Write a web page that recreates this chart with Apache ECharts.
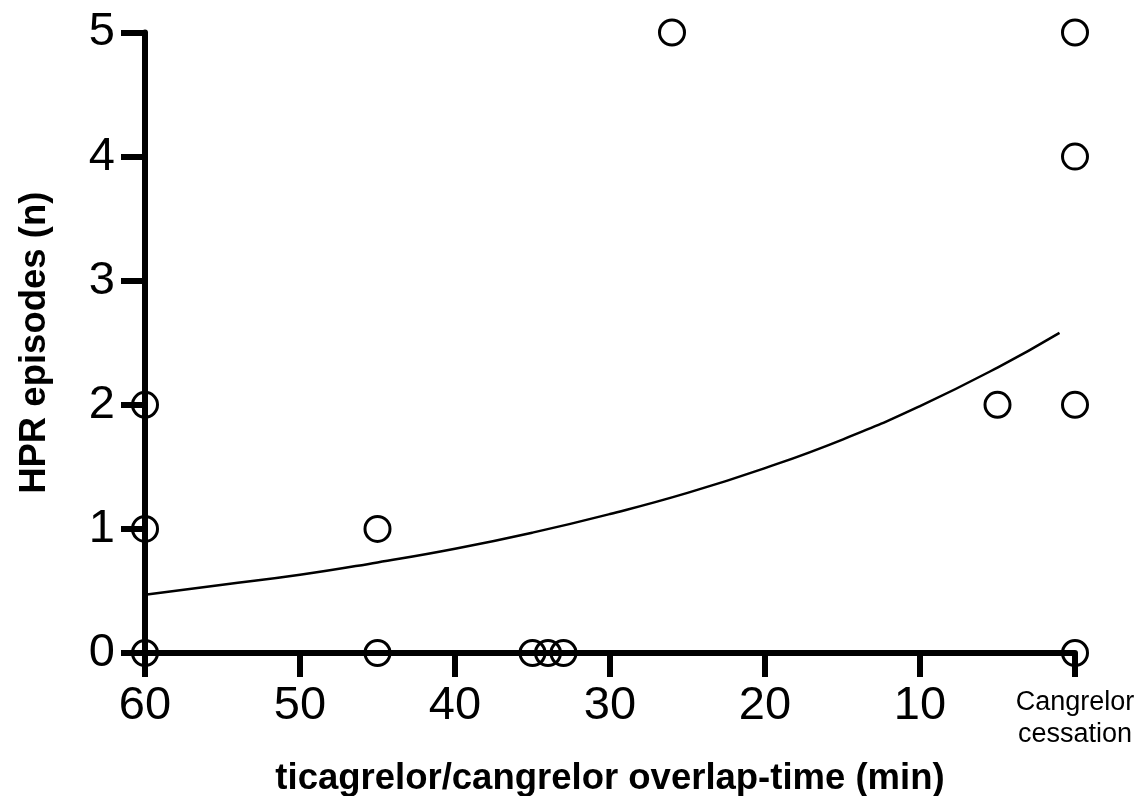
<!DOCTYPE html>
<html>
<head>
<meta charset="utf-8">
<script src="https://cdn.jsdelivr.net/npm/echarts@6/dist/echarts.min.js"></script>
<style>
  html, body { margin: 0; padding: 0; background: #fff; }
  #main { width: 1137px; height: 796px; }
</style>
</head>
<body>
<div id="main"></div>
<script>
// data: [overlap time (min), HPR episodes]
var points = [
    [60, 2], [60, 1], [60, 0],
    [45, 1], [45, 0],
    [35, 0], [34, 0], [33, 0],
    [26, 5],
    [5, 2],
    [0, 5], [0, 4], [0, 2], [0, 0]
];
// fitted curve
var curveX = [60, 55, 50, 45, 40, 35, 30, 25, 20, 15, 10, 5, 1];
var curveY = [0.47, 0.55, 0.63, 0.73, 0.84, 0.97, 1.12, 1.29, 1.49, 1.72, 1.99, 2.30, 2.58];
var xTicks = [60, 50, 40, 30, 20, 10, 0];
var yTicks = [0, 1, 2, 3, 4, 5];

var font = 'Liberation Sans, Arial, Helvetica, sans-serif';
var curve = curveX.map(function (x, i) { return [x, curveY[i]]; });

var myChart = echarts.init(document.getElementById('main'));
myChart.setOption({
    animation: false,
    backgroundColor: '#fff',
    grid: {
        left: 145,
        right: 62,
        top: 32.5,
        bottom: 143,
        containLabel: false,
        outerBoundsMode: 'none'
    },
    xAxis: {
        type: 'value',
        inverse: true,
        min: xTicks[xTicks.length - 1],
        max: xTicks[0],
        interval: 10,
        name: 'ticagrelor/cangrelor overlap-time (min)',
        nameLocation: 'middle',
        nameGap: 107,
        nameTextStyle: { fontFamily: font, fontSize: 36.5, fontWeight: 'bold', color: '#000' },
        splitLine: { show: false },
        axisLine: { onZero: false, lineStyle: { color: '#000', width: 6 } },
        axisTick: { inside: false, length: 24, lineStyle: { color: '#000', width: 6 } },
        axisLabel: {
            margin: 30,
            fontFamily: font,
            fontSize: 47,
            color: '#000',
            formatter: function (v) {
                return v === 0 ? '{s|Cangrelor\ncessation}' : String(v);
            },
            rich: {
                s: { fontFamily: font, fontSize: 27, lineHeight: 32, color: '#000', align: 'center', padding: [8, 0, 0, 0] }
            }
        }
    },
    yAxis: {
        type: 'value',
        min: yTicks[0],
        max: yTicks[yTicks.length - 1],
        interval: 1,
        name: 'HPR episodes (n)',
        nameLocation: 'middle',
        nameGap: 92,
        nameTextStyle: { fontFamily: font, fontSize: 36.5, fontWeight: 'bold', color: '#000' },
        splitLine: { show: false },
        axisLine: { onZero: false, lineStyle: { color: '#000', width: 6 } },
        axisTick: { inside: false, length: 24, lineStyle: { color: '#000', width: 6 } },
        axisLabel: { margin: 30, fontFamily: font, fontSize: 47, color: '#000' }
    },
    series: [
        {
            type: 'line',
            data: curve,
            smooth: true,
            showSymbol: false,
            symbol: 'none',
            lineStyle: { color: '#000', width: 2.5 },
            silent: true
        },
        {
            type: 'scatter',
            data: points,
            symbol: 'circle',
            symbolSize: 25,
            clip: false,
            itemStyle: { color: 'rgba(0,0,0,0)', borderColor: '#000', borderWidth: 3, opacity: 1 },
            silent: true
        }
    ]
});
</script>
</body>
</html>
